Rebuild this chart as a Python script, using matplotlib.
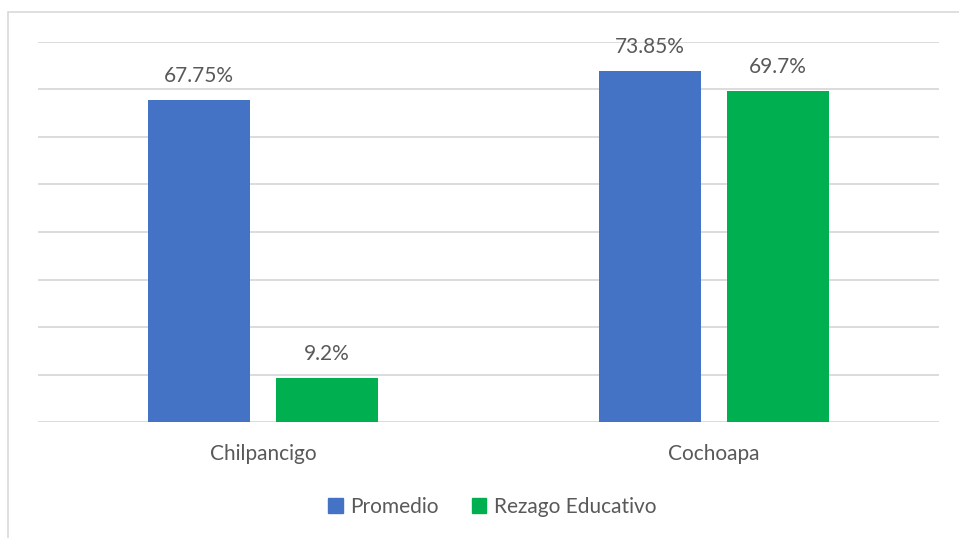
import numpy as np
import matplotlib.pyplot as plt
from matplotlib.patches import Patch, Rectangle

categories = ["Chilpancigo", "Cochoapa"]
promedio = [67.75, 73.85]
rezago = [9.2, 69.7]
promedio_labels = ["67.75%", "73.85%"]
rezago_labels = ["9.2%", "69.7%"]

blue = "#4472C4"
green = "#00B050"
text_color = "#595959"
grid_color = "#D9D9D9"

plt.rcParams['font.family'] = ['Lato', 'DejaVu Sans']

fig = plt.figure(figsize=(9.59, 5.38), dpi=100)
ax = fig.add_axes([38 / 959, 116 / 538, 901 / 959, 380 / 538])

x = np.arange(len(categories))
w = 0.226
off = 0.142
b1 = ax.bar(x - off, promedio, w, color=blue, zorder=3)
b2 = ax.bar(x + off, rezago, w, color=green, zorder=3)

for bars, labels in [(b1, promedio_labels), (b2, rezago_labels)]:
    for bar, lab in zip(bars, labels):
        ax.annotate(lab, (bar.get_x() + bar.get_width() / 2, bar.get_height()),
                    xytext=(0, 10), textcoords="offset points",
                    ha="center", va="bottom", fontsize=15, color=text_color)

ax.set_xlim(-0.5, 1.5)
ax.set_ylim(0, 80)
ax.set_yticks(np.arange(0, 81, 10))
ax.yaxis.grid(True, color=grid_color, linewidth=1.3, zorder=0)
ax.tick_params(axis="y", left=False, labelleft=False)
ax.set_xticks(x)
ax.set_xticklabels(categories, fontsize=15, color=text_color)
ax.tick_params(axis="x", length=0, pad=16)
for s in ax.spines.values():
    s.set_visible(False)

handles = [Patch(color=blue, label="Promedio"), Patch(color=green, label="Rezago Educativo")]
leg = fig.legend(handles=handles, loc="center", bbox_to_anchor=(492 / 959, 1 - 507 / 538),
                 ncol=2, frameon=False, fontsize=15, handlelength=0.7, handleheight=0.7,
                 handletextpad=0.35, columnspacing=1.6)
for t in leg.get_texts():
    t.set_color(text_color)

fig.add_artist(Rectangle((8 / 959, -0.1), 1.2, (538 - 12) / 538 + 0.1, fill=False,
                         ec=grid_color, lw=1.2, transform=fig.transFigure))

fig.savefig("out.png", dpi=100, facecolor="white")
